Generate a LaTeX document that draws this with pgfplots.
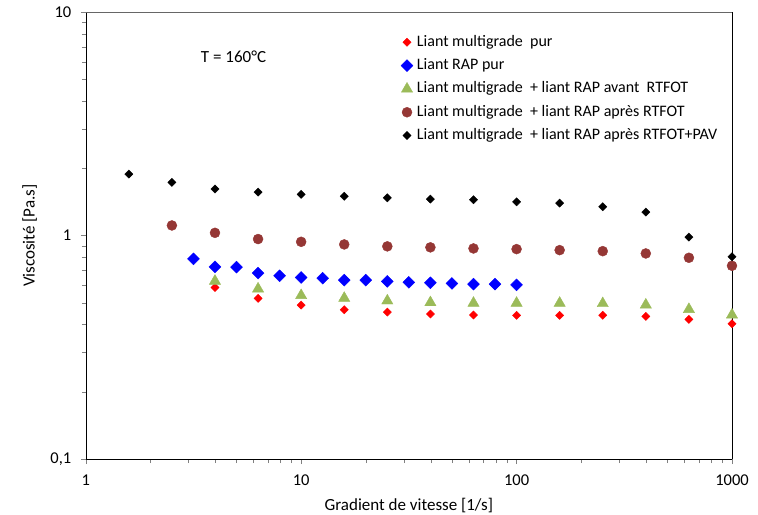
\documentclass[border=0pt]{standalone}
\usepackage{pgfplots}
\pgfplotsset{compat=1.18}
\usepackage{fontspec}
\setmainfont{Carlito}

\definecolor{rouge}{RGB}{255,0,0}
\definecolor{bleu}{RGB}{0,0,255}
\definecolor{vert}{RGB}{155,187,89}
\definecolor{brun}{RGB}{149,55,53}

\begin{document}
\begin{tikzpicture}
\begin{axis}[
    scale only axis,
    width=646pt, height=447pt,
    xmode=log, ymode=log,
    xmin=1, xmax=1000, ymin=0.1, ymax=10,
    axis x line*=bottom, axis y line*=left,
    tick align=outside,
    major tick length=5pt, minor tick length=4pt,
    xtick={1,10,100,1000}, xticklabels={1,10,100,1000},
    ytick={0.1,1,10}, yticklabels={{0,1},1,10},
    tick label style={font=\fontsize{16.5}{18}\selectfont},
    xticklabel style={yshift=-7pt},
    yticklabel style={xshift=-6pt},
    xlabel={Gradient de vitesse [1/s]},
    ylabel={Viscosité [Pa.s]},
    label style={font=\fontsize{17}{19}\selectfont},
    xlabel style={at={([yshift=-46pt]rel axis cs:0.5,0)}, anchor=center},
    ylabel style={at={([xshift=-56pt]rel axis cs:0,0.5)}, anchor=center},
    legend style={draw=none, fill=none, at={(rel axis cs:0.483,0.955)}, anchor=north west,
        font=\fontsize{16}{18}\selectfont, row sep=7.3pt,
        nodes={inner sep=1pt, text height=11pt, text depth=3pt},
        cells={anchor=west},
        /tikz/every odd column/.append style={column sep=3pt}},
    legend cell align=left,
    clip=false,
]
% Liant multigrade pur
\addplot[only marks, mark=square*, mark size=2.9pt, mark options={rotate=45}, color=rouge] coordinates {
    (3.981,0.586) (6.310,0.524) (10,0.489) (15.85,0.466) (25.12,0.455)
    (39.81,0.446) (63.10,0.441) (100,0.440) (158.5,0.440) (251.2,0.440)
    (398.1,0.435) (631.0,0.422) (1000,0.403)
};
\addlegendentry{Liant multigrade\ \ pur}
% Liant RAP pur
\addplot[only marks, mark=square*, mark size=4.2pt, mark options={rotate=45}, color=bleu] coordinates {
    (3.162,0.787) (3.981,0.725) (5.012,0.723) (6.310,0.680) (7.943,0.661)
    (10,0.650) (12.59,0.645) (15.85,0.632) (19.95,0.632) (25.12,0.624)
    (31.62,0.618) (39.81,0.615) (50.12,0.611) (63.10,0.607) (79.43,0.607)
    (100,0.602)
};
\addlegendentry{Liant RAP pur}
% avant RTFOT
\addplot[only marks, mark=triangle*, mark size=6.5pt, color=vert] coordinates {
    (3.981,0.626) (6.310,0.578) (10,0.540) (15.85,0.525) (25.12,0.511)
    (39.81,0.502) (63.10,0.499) (100,0.499) (158.5,0.499) (251.2,0.497)
    (398.1,0.490) (631.0,0.468) (1000,0.442)
};
\addlegendentry{Liant multigrade\ \ + liant RAP avant\ \ RTFOT}
% apres RTFOT
\addplot[only marks, mark=*, mark size=5pt, color=brun] coordinates {
    (2.512,1.110) (3.981,1.029) (6.310,0.965) (10,0.938) (15.85,0.913)
    (25.12,0.895) (39.81,0.886) (63.10,0.876) (100,0.870) (158.5,0.861)
    (251.2,0.852) (398.1,0.832) (631.0,0.796) (1000,0.733)
};
\addlegendentry{Liant multigrade\ \ + liant RAP après RTFOT}
% apres RTFOT+PAV
\addplot[only marks, mark=square*, mark size=2.9pt, mark options={rotate=45}, color=black] coordinates {
    (1.585,1.884) (2.512,1.730) (3.981,1.615) (6.310,1.565) (10,1.530)
    (15.85,1.500) (25.12,1.476) (39.81,1.457) (63.10,1.446) (100,1.416)
    (158.5,1.398) (251.2,1.345) (398.1,1.274) (631.0,0.985) (1000,0.804)
};
\addlegendentry{Liant multigrade\ \ + liant RAP après RTFOT+PAV}

\draw[gray!80!black] (rel axis cs:0,1) -- (rel axis cs:1,1);
\draw[black] (rel axis cs:1,0) -- (rel axis cs:1,1);
\node[anchor=west, font=\fontsize{17}{19}\selectfont] at (axis cs:3.3,6.29) {T = 160°C};
\coordinate (bl) at (rel axis cs:0,0);
\coordinate (tr) at (rel axis cs:1,1);
\end{axis}
\pgfresetboundingbox
\path[use as bounding box] ([shift={(-85.7pt,-55pt)}]bl) rectangle ([shift={(26pt,12pt)}]tr);
\end{tikzpicture}
\end{document}
